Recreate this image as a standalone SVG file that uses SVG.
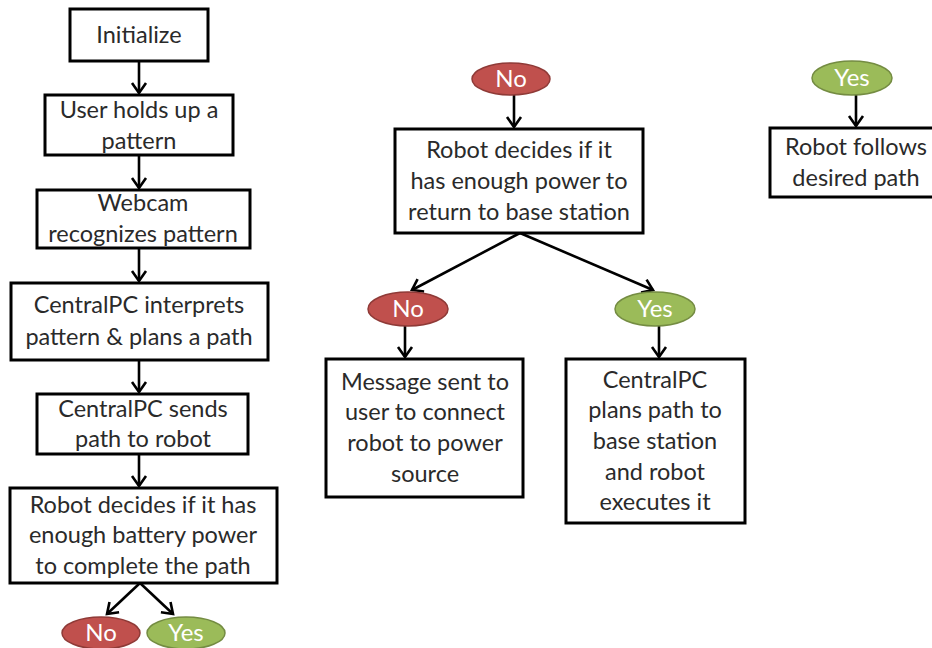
<svg xmlns="http://www.w3.org/2000/svg" width="932" height="648" viewBox="0 0 932 648">
  <defs>
    <marker id="arrow" markerUnits="userSpaceOnUse" markerWidth="24" markerHeight="24" viewBox="-12 -12 24 24" refX="0" refY="0" orient="auto">
      <path d="M-10,-7 L0,0 L-10,7" fill="none" stroke="#000" stroke-width="2.6" stroke-linejoin="miter"/>
    </marker>
    <style>
      .box { fill: #fff; stroke: #000; stroke-width: 3; }
      .label { font-family: Lato, "Open Sans", "Liberation Sans", sans-serif; font-size: 23.5px; fill: #2a2a2a; text-anchor: middle; }
      .no { fill: #c0504d; stroke: #8f3a37; stroke-width: 1.5; }
      .yes { fill: #9bbb59; stroke: #748c42; stroke-width: 1.5; }
      .tag { font-family: Lato, "Open Sans", "Liberation Sans", sans-serif; font-size: 24px; fill: #fff; text-anchor: middle; }
      .link { fill: none; stroke: #000; stroke-width: 2.6; marker-end: url(#arrow); }
    </style>
  </defs>
  <rect width="932" height="648" fill="#fff"/>

  <!-- connectors -->
  <g id="connectors">
    <line class="link" x1="139" y1="61" x2="139" y2="93"/>
    <line class="link" x1="139" y1="155" x2="139" y2="188"/>
    <line class="link" x1="139" y1="248" x2="139" y2="281"/>
    <line class="link" x1="139" y1="360" x2="139" y2="392"/>
    <line class="link" x1="139" y1="454" x2="139" y2="486"/>
    <line class="link" x1="140" y1="583" x2="107" y2="614"/>
    <line class="link" x1="140" y1="583" x2="173" y2="614"/>
    <line class="link" x1="514" y1="95" x2="514" y2="127"/>
    <line class="link" x1="520" y1="233" x2="412" y2="290"/>
    <line class="link" x1="520" y1="233" x2="653" y2="290"/>
    <line class="link" x1="405" y1="326" x2="405" y2="357"/>
    <line class="link" x1="659" y1="326" x2="659" y2="357"/>
    <line class="link" x1="856" y1="95" x2="856" y2="126"/>
  </g>

  <!-- main flow -->
  <g id="initialize">
    <rect class="box" x="70" y="9" width="138" height="52"/>
    <text class="label" x="139" y="43">Initialize</text>
  </g>
  <g id="hold-pattern">
    <rect class="box" x="45" y="95" width="188" height="60"/>
    <text class="label" x="139" y="118">User holds up a</text>
    <text class="label" x="139" y="149">pattern</text>
  </g>
  <g id="recognize">
    <rect class="box" x="37" y="190" width="213" height="58"/>
    <text class="label" x="143" y="211">Webcam</text>
    <text class="label" x="143" y="242">recognizes pattern</text>
  </g>
  <g id="interpret">
    <rect class="box" x="11" y="283" width="257" height="77"/>
    <text class="label" x="139" y="313">CentralPC interprets</text>
    <text class="label" x="139" y="345">pattern &amp; plans a path</text>
  </g>
  <g id="send-path">
    <rect class="box" x="37" y="394" width="211" height="60"/>
    <text class="label" x="143" y="417">CentralPC sends</text>
    <text class="label" x="143" y="447">path to robot</text>
  </g>
  <g id="battery-check">
    <rect class="box" x="10" y="488" width="267" height="95"/>
    <text class="label" x="143" y="513">Robot decides if it has</text>
    <text class="label" x="143" y="543">enough battery power</text>
    <text class="label" x="143" y="574">to complete the path</text>
  </g>
  <g id="battery-no">
    <ellipse class="no" cx="101" cy="633" rx="39" ry="16"/>
    <text class="tag" x="101" y="641">No</text>
  </g>
  <g id="battery-yes">
    <ellipse class="yes" cx="186" cy="633" rx="39" ry="16"/>
    <text class="tag" x="186" y="641">Yes</text>
  </g>

  <!-- low battery branch -->
  <g id="low-no">
    <ellipse class="no" cx="511" cy="79" rx="39" ry="16"/>
    <text class="tag" x="511" y="87">No</text>
  </g>
  <g id="return-check">
    <rect class="box" x="395" y="129" width="248" height="104"/>
    <text class="label" x="519" y="158">Robot decides if it</text>
    <text class="label" x="519" y="189">has enough power to</text>
    <text class="label" x="519" y="220">return to base station</text>
  </g>
  <g id="return-no">
    <ellipse class="no" cx="408" cy="309" rx="40" ry="17"/>
    <text class="tag" x="408" y="317">No</text>
  </g>
  <g id="return-yes">
    <ellipse class="yes" cx="655" cy="309" rx="40" ry="17"/>
    <text class="tag" x="655" y="317">Yes</text>
  </g>
  <g id="notify-user">
    <rect class="box" x="326" y="359" width="197" height="138"/>
    <text class="label" x="425" y="390">Message sent to</text>
    <text class="label" x="425" y="420">user to connect</text>
    <text class="label" x="425" y="451">robot to power</text>
    <text class="label" x="425" y="482">source</text>
  </g>
  <g id="return-base">
    <rect class="box" x="566" y="359" width="179" height="164"/>
    <text class="label" x="655" y="388">CentralPC</text>
    <text class="label" x="655" y="418">plans path to</text>
    <text class="label" x="655" y="449">base station</text>
    <text class="label" x="655" y="480">and robot</text>
    <text class="label" x="655" y="510">executes it</text>
  </g>

  <!-- enough battery branch -->
  <g id="ok-yes">
    <ellipse class="yes" cx="852" cy="78" rx="40" ry="17"/>
    <text class="tag" x="852" y="86">Yes</text>
  </g>
  <g id="follow-path">
    <rect class="box" x="770" y="128" width="175" height="69"/>
    <text class="label" x="856" y="155">Robot follows</text>
    <text class="label" x="856" y="186">desired path</text>
  </g>
</svg>
